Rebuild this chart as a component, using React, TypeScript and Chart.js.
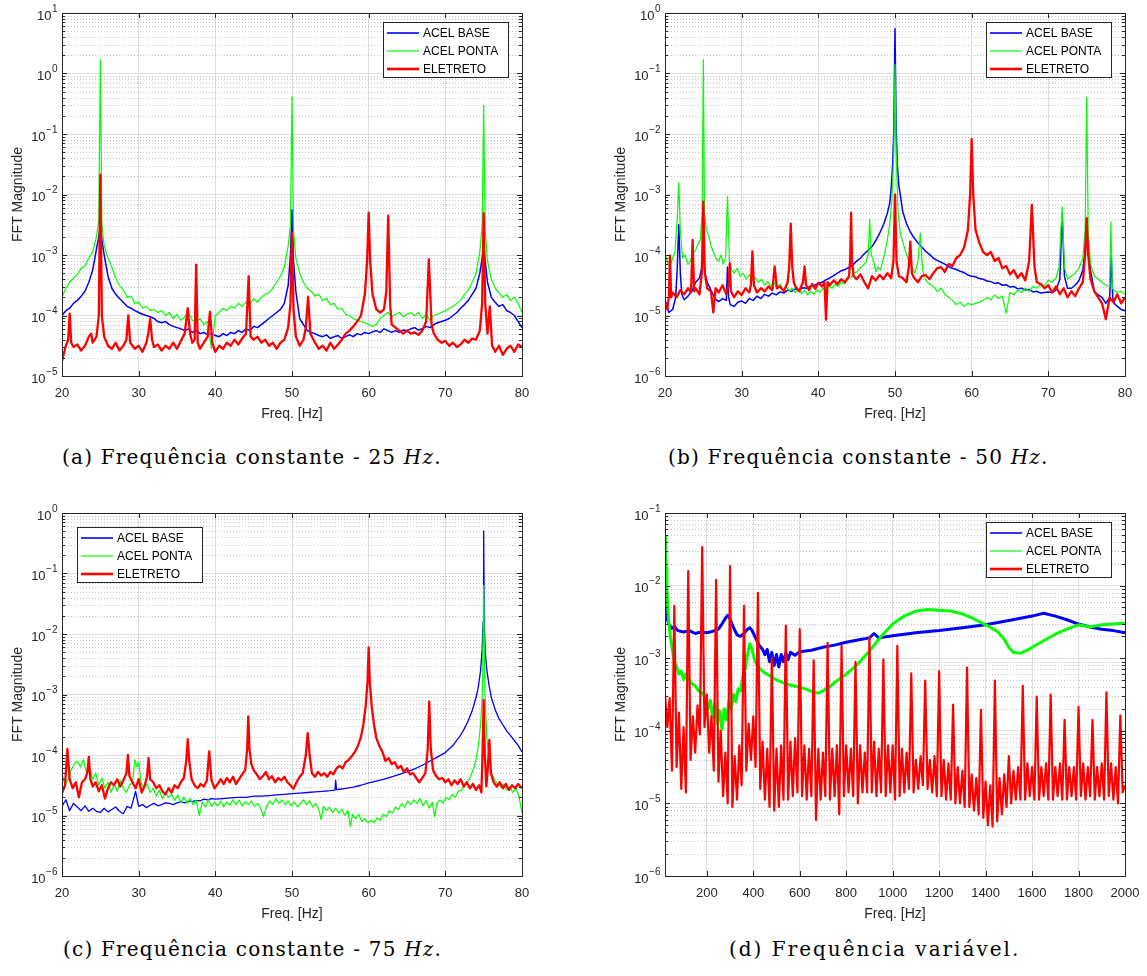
import React, { useEffect, useRef } from 'react';
import { Chart, registerables } from 'chart.js';

Chart.register(...registerables);

// ---------- DATA (frequency in Hz, magnitude given as log10(FFT magnitude)) ----------
const SERIES_LABELS = ['ACEL BASE', 'ACEL PONTA', 'ELETRETO'];
const X_TICKS_CONST = [20, 30, 40, 50, 60, 70, 80];
const X_TICKS_VAR = [200, 400, 600, 800, 1000, 1200, 1400, 1600, 1800, 2000];
const Y_EXP_A = [-5, 1];
const Y_EXP_B = [-6, 0];
const Y_EXP_C = [-6, 0];
const Y_EXP_D = [-6, -1];

// (a) 25 Hz
const A_BASE = [[20,-4.00],[20.5,-3.92],[21,-3.88],[21.5,-3.80],[22,-3.75],[22.5,-3.68],[23,-3.60],[23.5,-3.45],[24,-3.25],[24.5,-2.90],[24.8,-2.7],[25,-2.5],[25.2,-2.75],[25.5,-3.00],[26,-3.35],[26.5,-3.55],[27,-3.65],[27.5,-3.72],[28,-3.78],[28.5,-3.85],[29,-3.88],[29.5,-3.92],[30,-3.95],[30.5,-3.98],[31,-4.00],[31.5,-4.02],[32,-4.05],[32.5,-4.10],[33,-4.12],[33.5,-4.10],[34,-4.15],[34.5,-4.18],[35,-4.20],[35.5,-4.22],[36,-4.25],[36.5,-4.22],[37,-4.28],[37.5,-4.25],[38,-4.30],[38.5,-4.28],[39,-4.32],[39.5,-4.30],[40,-4.33],[40.5,-4.35],[41,-4.30],[41.5,-4.33],[42,-4.28],[42.5,-4.30],[43,-4.25],[43.5,-4.28],[44,-4.22],[44.5,-4.25],[45,-4.18],[45.5,-4.20],[46,-4.15],[46.5,-4.10],[47,-4.05],[47.5,-4.00],[48,-3.95],[48.5,-3.90],[49,-3.80],[49.5,-3.50],[49.8,-3.0],[50,-2.25],[50.2,-3.1],[50.5,-3.60],[51,-4.05],[51.5,-4.15],[52,-4.25],[52.5,-4.28],[53,-4.30],[53.5,-4.33],[54,-4.35],[54.5,-4.32],[55,-4.38],[55.5,-4.35],[56,-4.33],[56.5,-4.38],[57,-4.35],[57.5,-4.32],[58,-4.35],[58.5,-4.30],[59,-4.32],[59.5,-4.28],[60,-4.30],[60.5,-4.27],[61,-4.25],[61.5,-4.28],[62,-4.22],[62.5,-4.25],[63,-4.28],[63.5,-4.25],[64,-4.28],[64.5,-4.24],[65,-4.25],[65.5,-4.22],[66,-4.20],[66.5,-4.24],[67,-4.22],[67.5,-4.18],[68,-4.20],[68.5,-4.15],[69,-4.12],[69.5,-4.10],[70,-4.08],[70.5,-4.05],[71,-4.00],[71.5,-3.95],[72,-3.88],[72.5,-3.82],[73,-3.75],[73.5,-3.65],[74,-3.55],[74.5,-3.30],[74.8,-3.05],[75,-2.85],[75.2,-3.1],[75.5,-3.45],[76,-3.70],[76.5,-3.78],[77,-3.85],[77.5,-3.82],[78,-3.92],[78.5,-3.95],[79,-4.00],[79.5,-4.10],[80,-4.20]];
const A_PONTA = [[20,-3.70],[20.5,-3.55],[21,-3.45],[21.5,-3.38],[22,-3.32],[22.5,-3.22],[23,-3.18],[23.5,-3.05],[24,-2.95],[24.5,-2.70],[24.8,-2.4],[25,0.23],[25.2,-2.5],[25.5,-2.85],[26,-3.05],[26.5,-3.20],[27,-3.38],[27.5,-3.50],[28,-3.58],[28.5,-3.70],[29,-3.68],[29.5,-3.80],[30,-3.78],[30.5,-3.88],[31,-3.85],[31.5,-3.92],[32,-3.90],[32.5,-3.95],[33,-3.92],[33.5,-4.00],[34,-3.95],[34.5,-4.05],[35,-3.98],[35.5,-4.08],[36,-4.02],[36.5,-3.95],[37,-4.08],[37.5,-4.12],[38,-4.05],[38.5,-4.15],[39,-4.10],[39.5,-4.55],[40,-4.00],[40.5,-3.95],[41,-3.88],[41.5,-3.92],[42,-3.85],[42.5,-3.88],[43,-3.80],[43.5,-3.85],[44,-3.78],[44.5,-3.82],[45,-3.72],[45.5,-3.78],[46,-3.70],[46.5,-3.65],[47,-3.62],[47.5,-3.55],[48,-3.45],[48.5,-3.35],[49,-3.20],[49.5,-2.85],[49.8,-2.5],[50,-0.38],[50.2,-2.6],[50.5,-3.05],[51,-3.30],[51.5,-3.45],[52,-3.55],[52.5,-3.60],[53,-3.68],[53.5,-3.65],[54,-3.75],[54.5,-3.72],[55,-3.82],[55.5,-3.80],[56,-3.90],[56.5,-3.88],[57,-3.98],[57.5,-4.00],[58,-4.05],[58.5,-4.08],[59,-4.10],[59.5,-4.12],[60,-4.15],[60.5,-4.18],[61,-4.15],[61.5,-4.05],[62,-4.00],[62.5,-3.95],[63,-4.02],[63.5,-3.98],[64,-3.95],[64.5,-4.02],[65,-3.98],[65.5,-3.95],[66,-4.00],[66.5,-3.95],[67,-4.05],[67.5,-3.98],[68,-4.08],[68.5,-4.00],[69,-3.98],[69.5,-3.95],[70,-3.92],[70.5,-3.88],[71,-3.85],[71.5,-3.80],[72,-3.75],[72.5,-3.65],[73,-3.58],[73.5,-3.45],[74,-3.30],[74.5,-2.95],[74.8,-2.5],[75,-0.53],[75.2,-2.6],[75.5,-3.10],[76,-3.40],[76.5,-3.55],[77,-3.62],[77.5,-3.70],[78,-3.65],[78.5,-3.75],[79,-3.70],[79.5,-3.80],[80,-3.95]];
const A_ELETRETO = [[20,-4.75],[20.5,-4.50],[20.8,-4.40],[21,-3.97],[21.2,-4.45],[21.5,-4.52],[22,-4.48],[22.5,-4.58],[23,-4.50],[23.5,-4.35],[23.8,-4.30],[24,-4.45],[24.5,-4.35],[24.8,-4.0],[25,-1.67],[25.2,-4.0],[25.5,-4.35],[26,-4.50],[26.5,-4.55],[27,-4.45],[27.5,-4.58],[28,-4.50],[28.4,-4.40],[28.65,-4.00],[28.9,-4.45],[29.5,-4.55],[30,-4.50],[30.5,-4.60],[31,-4.45],[31.25,-4.30],[31.5,-4.05],[31.75,-4.40],[32,-4.52],[32.5,-4.48],[33,-4.58],[33.5,-4.50],[34,-4.55],[34.5,-4.45],[35,-4.55],[35.5,-4.42],[36,-4.30],[36.4,-3.88],[36.7,-4.30],[37,-4.45],[37.3,-4.40],[37.5,-3.16],[37.7,-4.45],[38,-4.55],[38.5,-4.45],[39,-4.35],[39.3,-3.94],[39.6,-4.45],[40,-4.60],[40.5,-4.50],[41,-4.55],[41.5,-4.45],[42,-4.50],[42.5,-4.40],[43,-4.48],[43.5,-4.38],[44,-4.30],[44.35,-3.35],[44.6,-4.35],[45,-4.40],[45.5,-4.35],[46,-4.45],[46.5,-4.40],[47,-4.50],[47.5,-4.45],[48,-4.55],[48.5,-4.45],[49,-4.40],[49.5,-4.20],[49.8,-3.8],[50,-2.64],[50.2,-3.9],[50.5,-4.35],[51,-4.50],[51.5,-4.40],[51.8,-4.2],[52.1,-3.69],[52.4,-4.3],[53,-4.45],[53.5,-4.55],[54,-4.50],[54.5,-4.58],[55,-4.45],[55.5,-4.55],[56,-4.48],[56.5,-4.40],[57,-4.30],[57.5,-4.25],[58,-4.18],[58.5,-4.10],[59,-4.00],[59.5,-3.65],[59.8,-3.1],[60,-2.30],[60.2,-3.1],[60.5,-3.65],[61,-3.90],[61.5,-3.95],[62,-3.90],[62.3,-3.6],[62.55,-2.35],[62.8,-3.8],[63,-4.15],[63.5,-4.20],[64,-4.25],[64.5,-4.30],[65,-4.25],[65.5,-4.30],[66,-4.28],[66.5,-4.32],[67,-4.25],[67.5,-4.10],[67.85,-3.07],[68.2,-4.15],[68.5,-4.30],[69,-4.40],[69.5,-4.45],[70,-4.42],[70.5,-4.50],[71,-4.45],[71.5,-4.52],[72,-4.48],[72.5,-4.40],[73,-4.45],[73.5,-4.38],[74,-4.40],[74.5,-4.25],[74.8,-3.8],[75,-2.31],[75.2,-3.8],[75.5,-4.30],[75.8,-3.85],[76.1,-4.5],[76.5,-4.60],[77,-4.50],[77.5,-4.65],[78,-4.55],[78.5,-4.50],[79,-4.60],[79.5,-4.48],[80,-4.52]];

// (b) 50 Hz
const B_BASE = [[20,-4.74],[20.5,-4.95],[21,-4.90],[21.4,-4.70],[21.6,-4.2],[21.8,-3.50],[22,-4.30],[22.2,-4.65],[22.5,-4.74],[23,-4.68],[23.5,-4.60],[24,-4.45],[24.5,-4.38],[24.8,-4.2],[25,-4.0],[25.2,-4.3],[25.5,-4.45],[26,-4.58],[26.5,-4.72],[27,-4.77],[27.5,-4.72],[28,-4.75],[28.15,-4.20],[28.3,-4.70],[28.5,-4.82],[29,-4.85],[29.5,-4.78],[30,-4.76],[30.5,-4.80],[31,-4.72],[31.5,-4.75],[32,-4.68],[32.5,-4.72],[33,-4.65],[33.5,-4.68],[34,-4.63],[34.5,-4.66],[35,-4.61],[35.5,-4.63],[36,-4.58],[36.5,-4.60],[37,-4.56],[37.5,-4.58],[38,-4.54],[38.5,-4.55],[39,-4.51],[39.5,-4.50],[40,-4.47],[40.5,-4.45],[41,-4.41],[41.5,-4.38],[42,-4.34],[42.5,-4.30],[43,-4.26],[43.5,-4.24],[44,-4.20],[44.5,-4.17],[45,-4.10],[45.5,-4.05],[46,-3.98],[46.5,-3.92],[47,-3.86],[47.5,-3.76],[48,-3.64],[48.5,-3.50],[49,-3.31],[49.3,-3.15],[49.5,-2.90],[49.7,-2.5],[49.85,-1.9],[50,-0.26],[50.15,-1.9],[50.3,-2.5],[50.5,-2.85],[50.75,-3.05],[51,-3.28],[51.5,-3.48],[52,-3.62],[52.5,-3.72],[53,-3.80],[53.5,-3.87],[54,-3.94],[54.5,-3.99],[55,-4.05],[55.5,-4.09],[56,-4.12],[56.5,-4.15],[57,-4.19],[57.5,-4.22],[58,-4.24],[58.5,-4.27],[59,-4.29],[59.5,-4.33],[60,-4.35],[60.5,-4.36],[61,-4.39],[61.5,-4.40],[62,-4.43],[62.5,-4.44],[63,-4.47],[63.5,-4.46],[64,-4.50],[64.5,-4.49],[65,-4.53],[65.5,-4.52],[66,-4.56],[66.5,-4.55],[67,-4.58],[67.5,-4.57],[68,-4.61],[68.5,-4.60],[69,-4.63],[69.5,-4.62],[70,-4.61],[70.5,-4.62],[71,-4.58],[71.5,-4.40],[71.8,-3.31],[72.1,-4.35],[72.5,-4.55],[73,-4.55],[73.5,-4.50],[74,-4.42],[74.5,-4.25],[74.8,-3.9],[75,-3.40],[75.2,-3.9],[75.5,-4.25],[76,-4.60],[76.5,-4.66],[77,-4.70],[77.5,-4.80],[78,-4.70],[78.2,-4.00],[78.4,-4.70],[78.6,-4.80],[79,-4.85],[79.5,-4.90],[80,-4.92]];
const B_PONTA = [[20,-3.97],[20.3,-4.10],[20.6,-4.20],[21,-4.05],[21.3,-3.95],[21.6,-3.4],[21.8,-2.80],[22,-3.6],[22.3,-4.05],[22.6,-4.00],[23,-4.15],[23.3,-4.10],[23.6,-3.98],[24,-3.92],[24.3,-3.82],[24.6,-3.75],[24.85,-3.3],[25,-0.77],[25.15,-3.3],[25.4,-3.58],[25.7,-3.68],[26,-3.85],[26.3,-3.95],[26.6,-4.05],[27,-4.10],[27.3,-4.00],[27.6,-4.15],[27.9,-4.05],[28.15,-3.03],[28.4,-4.10],[28.7,-4.25],[29,-4.30],[29.4,-4.22],[29.8,-4.35],[30.2,-4.30],[30.6,-4.40],[31,-4.33],[31.4,-4.42],[31.8,-4.38],[32.2,-4.45],[32.6,-4.40],[33,-4.50],[33.4,-4.44],[33.8,-4.52],[34.2,-4.45],[34.6,-4.55],[35,-4.48],[35.4,-4.58],[35.8,-4.52],[36.2,-4.60],[36.6,-4.55],[37,-4.62],[37.4,-4.56],[37.8,-4.64],[38.2,-4.58],[38.6,-4.66],[39,-4.60],[39.4,-4.65],[39.8,-4.58],[40.2,-4.62],[40.6,-4.55],[41,-4.58],[41.4,-4.52],[41.8,-4.55],[42.2,-4.48],[42.6,-4.52],[43,-4.45],[43.4,-4.48],[43.8,-4.40],[44.2,-4.38],[44.6,-4.30],[45,-4.28],[45.4,-4.22],[45.8,-4.18],[46.2,-4.12],[46.5,-4.0],[46.7,-3.41],[46.9,-4.00],[47.2,-4.10],[47.5,-4.28],[47.8,-4.20],[48.1,-4.25],[48.4,-4.10],[48.7,-3.95],[49,-3.75],[49.3,-3.50],[49.6,-3.10],[49.85,-2.3],[50,-0.85],[50.15,-2.3],[50.4,-3.30],[50.7,-3.65],[51,-3.78],[51.4,-3.95],[51.8,-4.10],[52.2,-4.20],[52.6,-4.30],[53,-4.10],[53.3,-3.64],[53.6,-4.25],[54,-4.42],[54.5,-4.48],[55,-4.52],[55.5,-4.60],[56,-4.55],[56.5,-4.65],[57,-4.70],[57.5,-4.75],[58,-4.82],[58.5,-4.78],[59,-4.85],[59.5,-4.80],[60,-4.82],[60.5,-4.80],[61,-4.78],[61.5,-4.75],[62,-4.70],[62.5,-4.74],[63,-4.66],[63.5,-4.72],[64,-4.68],[64.5,-4.96],[65,-4.62],[65.5,-4.66],[66,-4.58],[66.5,-4.62],[67,-4.55],[67.5,-4.60],[68,-4.52],[68.5,-4.55],[69,-4.48],[69.5,-4.50],[70,-4.42],[70.5,-4.45],[71,-4.38],[71.4,-4.2],[71.8,-3.20],[72.1,-4.2],[72.5,-4.40],[73,-4.35],[73.5,-4.30],[74,-4.22],[74.5,-4.05],[74.8,-3.6],[75,-1.39],[75.2,-3.6],[75.5,-4.15],[76,-4.35],[76.5,-4.40],[77,-4.45],[77.5,-4.50],[78,-4.52],[78.16,-3.45],[78.35,-4.55],[78.7,-4.60],[79,-4.62],[79.5,-4.60],[80,-4.65]];
const B_ELETRETO = [[20,-4.80],[20.3,-4.90],[20.5,-4.70],[20.65,-4.01],[20.8,-4.70],[21,-4.62],[21.5,-4.70],[22,-4.58],[22.5,-4.65],[23,-4.55],[23.4,-4.62],[23.6,-3.75],[23.8,-4.60],[24,-4.55],[24.5,-4.65],[24.8,-4.3],[25,-3.12],[25.2,-4.3],[25.5,-4.55],[26,-4.60],[26.3,-4.95],[26.6,-4.55],[27,-4.62],[27.5,-4.50],[28,-4.65],[28.3,-4.5],[28.45,-4.14],[28.6,-4.6],[29,-4.70],[29.5,-4.60],[30,-4.66],[30.5,-4.55],[31,-4.62],[31.2,-4.5],[31.4,-3.94],[31.6,-4.5],[32,-4.62],[32.5,-4.55],[33,-4.60],[33.5,-4.52],[34,-4.58],[34.3,-4.19],[34.6,-4.55],[35,-4.52],[35.5,-4.60],[36,-4.45],[36.2,-4.2],[36.4,-3.48],[36.6,-4.2],[36.8,-4.45],[37,-4.52],[37.5,-4.60],[38,-4.45],[38.2,-4.19],[38.4,-4.50],[38.8,-4.58],[39.2,-4.48],[39.6,-4.56],[40,-4.46],[40.5,-4.52],[40.8,-4.45],[41,-5.07],[41.2,-4.45],[41.5,-4.50],[42,-4.42],[42.5,-4.48],[43,-4.40],[43.5,-4.45],[44,-4.35],[44.15,-4.1],[44.27,-3.30],[44.4,-4.1],[44.6,-4.35],[45,-4.40],[45.5,-4.32],[46,-4.45],[46.5,-4.55],[47,-4.35],[47.5,-4.42],[48,-4.33],[48.5,-4.40],[49,-4.30],[49.5,-4.38],[49.8,-4.1],[50,-3.00],[50.2,-4.1],[50.5,-4.35],[51,-4.38],[51.5,-4.45],[51.8,-4.2],[52,-3.78],[52.2,-4.3],[52.5,-4.38],[53,-4.45],[53.5,-4.35],[54,-4.33],[54.5,-4.40],[55,-4.30],[55.5,-4.22],[56,-4.20],[56.5,-4.28],[57,-4.15],[57.5,-4.18],[58,-4.05],[58.5,-4.00],[59,-3.88],[59.5,-3.60],[59.8,-3.0],[60,-2.08],[60.2,-3.0],[60.5,-3.58],[61,-3.80],[61.5,-3.95],[62,-4.00],[62.5,-3.95],[63,-4.10],[63.5,-4.05],[64,-4.22],[64.5,-4.18],[65,-4.32],[65.5,-4.25],[66,-4.38],[66.5,-4.30],[67,-4.42],[67.5,-4.1],[67.85,-3.17],[68.2,-4.2],[68.5,-4.45],[69,-4.48],[69.5,-4.55],[70,-4.50],[70.5,-4.62],[71,-4.52],[71.5,-4.65],[72,-4.55],[72.5,-4.70],[73,-4.60],[73.5,-4.68],[74,-4.55],[74.5,-4.45],[74.8,-4.0],[75,-3.39],[75.2,-4.0],[75.5,-4.40],[76,-4.60],[76.5,-4.70],[77,-4.80],[77.5,-5.06],[78,-4.70],[78.5,-4.78],[79,-4.65],[79.5,-4.80],[80,-4.70]];

// (c) 75 Hz
const C_BASE = [[20,-4.85],[20.5,-4.74],[21,-4.92],[21.5,-4.80],[22,-4.86],[22.5,-4.92],[23,-4.84],[23.5,-4.93],[24,-4.88],[24.5,-4.93],[25,-4.95],[25.5,-4.88],[26,-4.94],[26.5,-4.90],[27,-4.86],[27.5,-4.93],[28,-4.97],[28.5,-4.85],[29,-4.88],[29.6,-4.60],[30,-4.85],[30.5,-4.82],[31,-4.87],[31.5,-4.83],[32,-4.80],[32.5,-4.84],[33,-4.82],[33.5,-4.79],[34,-4.80],[34.5,-4.82],[35,-4.79],[35.5,-4.77],[36,-4.79],[36.5,-4.76],[37,-4.77],[37.5,-4.75],[38,-4.76],[38.5,-4.73],[39,-4.74],[39.5,-4.72],[40,-4.73],[41,-4.72],[42,-4.71],[43,-4.70],[44,-4.70],[45,-4.68],[46,-4.68],[47,-4.67],[48,-4.66],[49,-4.65],[50,-4.64],[51,-4.63],[52,-4.62],[53,-4.61],[54,-4.60],[55,-4.59],[55.6,-4.58],[55.7,-4.42],[55.8,-4.57],[56,-4.57],[57,-4.55],[58,-4.53],[59,-4.50],[60,-4.46],[61,-4.43],[62,-4.40],[63,-4.36],[64,-4.32],[65,-4.28],[66,-4.23],[67,-4.17],[68,-4.10],[69,-4.03],[70,-3.96],[71,-3.84],[72,-3.67],[72.5,-3.56],[73,-3.43],[73.5,-3.27],[74,-3.05],[74.3,-2.88],[74.6,-2.60],[74.8,-2.25],[74.92,-1.8],[75,-0.30],[75.08,-1.8],[75.2,-2.28],[75.4,-2.58],[75.7,-2.85],[76,-3.05],[76.5,-3.25],[77,-3.40],[77.5,-3.50],[78,-3.60],[78.5,-3.68],[79,-3.76],[79.5,-3.84],[80,-3.95]];
const C_PONTA = [[20,-4.30],[20.4,-4.50],[20.8,-4.40],[21.2,-4.25],[21.6,-4.15],[22,-4.10],[22.4,-4.20],[22.8,-4.08],[23.2,-4.30],[23.6,-4.22],[24,-4.40],[24.4,-4.30],[24.8,-4.50],[25.2,-4.38],[25.6,-4.55],[26,-4.45],[26.4,-4.62],[26.8,-4.48],[27.2,-4.60],[27.6,-4.42],[28,-4.55],[28.4,-4.62],[28.8,-4.50],[29.2,-4.45],[29.5,-4.08],[29.8,-4.20],[30,-4.12],[30.3,-4.45],[30.7,-4.55],[31.1,-4.48],[31.5,-4.62],[31.9,-4.55],[32.3,-4.68],[32.7,-4.58],[33.1,-4.72],[33.5,-4.62],[33.9,-4.70],[34.3,-4.65],[34.7,-4.75],[35.1,-4.66],[35.5,-4.78],[35.9,-4.70],[36.3,-4.80],[36.7,-4.72],[37.1,-4.82],[37.5,-4.75],[37.9,-5.00],[38.3,-4.78],[38.7,-4.86],[39.1,-4.74],[39.5,-4.85],[39.9,-4.78],[40.3,-4.84],[40.7,-4.76],[41.1,-4.86],[41.5,-4.78],[41.9,-4.83],[42.3,-4.74],[42.7,-4.82],[43.1,-4.75],[43.5,-4.84],[43.9,-4.77],[44.3,-4.82],[44.7,-4.76],[45.1,-4.85],[45.5,-4.80],[45.9,-4.88],[46.3,-5.02],[46.7,-4.84],[47.1,-4.76],[47.5,-4.82],[47.9,-4.72],[48.3,-4.80],[48.7,-4.74],[49.1,-4.82],[49.5,-4.76],[49.9,-4.84],[50.3,-4.78],[50.7,-4.86],[51.1,-4.80],[51.5,-4.74],[51.9,-4.82],[52.3,-4.76],[52.7,-4.86],[53.1,-4.80],[53.5,-4.90],[53.8,-5.07],[54.1,-4.85],[54.5,-4.92],[54.9,-4.86],[55.3,-4.95],[55.7,-4.88],[56.1,-4.96],[56.5,-4.90],[56.9,-5.00],[57.3,-4.92],[57.6,-5.18],[57.9,-4.98],[58.3,-5.05],[58.7,-4.98],[59.1,-5.10],[59.5,-5.05],[59.9,-5.12],[60.3,-5.08],[60.7,-5.12],[61.1,-5.04],[61.5,-5.08],[61.9,-4.98],[62.3,-5.02],[62.7,-4.92],[63.1,-4.96],[63.5,-4.86],[63.9,-4.90],[64.3,-4.80],[64.7,-4.86],[65.1,-4.76],[65.5,-4.82],[65.9,-4.74],[66.3,-4.80],[66.7,-4.72],[67.1,-4.84],[67.5,-4.75],[67.9,-4.88],[68.3,-4.78],[68.6,-5.02],[68.9,-4.80],[69.3,-4.74],[69.7,-4.80],[70.1,-4.70],[70.5,-4.74],[70.9,-4.65],[71.3,-4.70],[71.7,-4.60],[72.1,-4.58],[72.5,-4.50],[72.9,-4.45],[73.3,-4.35],[73.7,-4.22],[74,-4.08],[74.3,-3.85],[74.6,-3.50],[74.85,-2.9],[75,-1.20],[75.15,-2.9],[75.4,-3.70],[75.7,-4.05],[76,-4.30],[76.4,-4.40],[76.8,-4.48],[77.2,-4.52],[77.6,-4.48],[78,-4.58],[78.4,-4.52],[78.8,-4.62],[79.2,-4.55],[79.6,-4.68],[80,-4.96]];
const C_ELETRETO = [[20,-4.63],[20.4,-4.50],[20.7,-3.90],[21,-4.40],[21.4,-4.55],[21.8,-4.45],[22.2,-4.70],[22.6,-4.45],[23,-4.40],[23.3,-4.3],[23.5,-4.03],[23.7,-4.4],[24,-4.52],[24.4,-4.45],[24.8,-4.60],[25.2,-4.50],[25.6,-4.72],[26,-4.55],[26.4,-4.45],[26.8,-4.50],[27.2,-4.40],[27.6,-4.52],[28,-4.42],[28.4,-4.3],[28.6,-4.00],[28.8,-4.35],[29.2,-4.45],[29.6,-4.55],[30,-4.40],[30.4,-4.62],[30.8,-4.50],[31.1,-4.35],[31.3,-4.05],[31.5,-4.40],[31.9,-4.45],[32.3,-4.55],[32.7,-4.50],[33.1,-4.60],[33.5,-4.65],[33.9,-4.55],[34.3,-4.62],[34.7,-4.50],[35.1,-4.55],[35.5,-4.45],[35.9,-4.38],[36.2,-4.1],[36.4,-3.74],[36.6,-4.1],[36.9,-4.40],[37.3,-4.50],[37.7,-4.55],[38.1,-4.48],[38.5,-4.52],[38.9,-4.42],[39.2,-3.94],[39.5,-4.42],[39.9,-4.55],[40.3,-4.48],[40.7,-4.40],[41.1,-4.48],[41.5,-4.38],[41.9,-4.45],[42.3,-4.36],[42.7,-4.48],[43.1,-4.40],[43.5,-4.32],[43.9,-4.25],[44.15,-3.9],[44.3,-3.36],[44.45,-3.9],[44.7,-4.15],[45,-4.25],[45.4,-4.32],[45.8,-4.40],[46.2,-4.35],[46.6,-4.28],[47,-4.40],[47.4,-4.35],[47.8,-4.45],[48.2,-4.38],[48.6,-4.42],[49,-4.36],[49.4,-4.45],[49.8,-4.50],[50.2,-4.56],[50.6,-4.45],[51,-4.36],[51.4,-4.30],[51.8,-4.0],[52.05,-3.64],[52.3,-4.0],[52.6,-4.30],[53,-4.36],[53.4,-4.28],[53.8,-4.34],[54.2,-4.30],[54.6,-4.36],[55,-4.28],[55.4,-4.32],[55.8,-4.22],[56.2,-4.18],[56.6,-4.22],[57,-4.12],[57.4,-4.08],[57.8,-4.02],[58.2,-3.95],[58.6,-3.85],[59,-3.70],[59.3,-3.50],[59.6,-3.20],[59.85,-2.8],[60,-2.22],[60.15,-2.8],[60.4,-3.20],[60.7,-3.50],[61,-3.72],[61.4,-3.85],[61.8,-3.95],[62.2,-4.10],[62.6,-4.05],[63,-4.15],[63.4,-4.12],[63.8,-4.22],[64.2,-4.18],[64.6,-4.28],[65,-4.22],[65.4,-4.32],[65.8,-4.30],[66.2,-4.38],[66.6,-4.45],[67,-4.38],[67.4,-4.30],[67.7,-3.9],[67.9,-3.12],[68.1,-3.9],[68.4,-4.25],[68.8,-4.35],[69.2,-4.40],[69.6,-4.38],[70,-4.45],[70.4,-4.40],[70.8,-4.50],[71.2,-4.42],[71.6,-4.48],[72,-4.40],[72.4,-4.52],[72.8,-4.45],[73.2,-4.55],[73.6,-4.48],[74,-4.58],[74.4,-4.50],[74.7,-4.62],[74.85,-4.0],[75,-3.09],[75.15,-4.0],[75.35,-4.52],[75.55,-4.2],[75.74,-3.75],[75.95,-4.3],[76.3,-4.45],[76.7,-4.52],[77.1,-4.45],[77.5,-4.55],[77.9,-4.48],[78.3,-4.58],[78.7,-4.50],[79.1,-4.55],[79.5,-4.48],[80,-4.55]];

// (d) variable frequency
const D_BASE = [[20,-1.97],[25,-2.30],[30,-2.47],[40,-2.55],[50,-2.59],[60,-2.56],[75,-2.62],[100,-2.64],[125,-2.62],[150,-2.66],[175,-2.64],[200,-2.65],[225,-2.63],[250,-2.60],[265,-2.53],[280,-2.45],[290,-2.41],[300,-2.46],[315,-2.58],[330,-2.68],[345,-2.70],[360,-2.66],[375,-2.60],[385,-2.58],[395,-2.62],[410,-2.72],[425,-2.82],[440,-2.88],[450,-2.95],[460,-2.88],[470,-3.05],[480,-2.92],[490,-3.10],[500,-2.95],[510,-3.12],[520,-2.95],[530,-3.05],[540,-2.93],[550,-3.02],[560,-2.92],[580,-2.96],[600,-2.91],[650,-2.89],[700,-2.85],[750,-2.82],[800,-2.78],[850,-2.75],[900,-2.72],[920,-2.66],[940,-2.72],[1000,-2.69],[1100,-2.65],[1200,-2.62],[1300,-2.58],[1400,-2.54],[1500,-2.48],[1550,-2.45],[1600,-2.42],[1650,-2.38],[1700,-2.42],[1750,-2.47],[1800,-2.53],[1850,-2.57],[1900,-2.60],[1950,-2.62],[2000,-2.65]];
const D_PONTA = [[20,-1.32],[22,-1.45],[25,-1.75],[28,-2.05],[32,-2.30],[36,-2.50],[40,-2.62],[45,-2.75],[50,-2.85],[55,-2.95],[60,-3.05],[70,-3.12],[80,-3.22],[90,-3.18],[100,-3.30],[110,-3.22],[120,-3.28],[135,-3.35],[150,-3.38],[165,-3.45],[180,-3.48],[195,-3.55],[205,-3.70],[215,-3.58],[225,-3.82],[235,-3.62],[245,-3.90],[255,-3.72],[265,-3.98],[275,-3.70],[285,-3.85],[295,-3.60],[305,-3.70],[315,-3.50],[325,-3.60],[335,-3.42],[345,-3.45],[355,-3.25],[365,-3.15],[375,-2.95],[385,-2.80],[395,-2.88],[405,-3.02],[420,-3.12],[440,-3.18],[460,-3.22],[480,-3.26],[500,-3.30],[530,-3.34],[560,-3.37],[600,-3.40],[630,-3.43],[660,-3.47],[680,-3.48],[700,-3.45],[730,-3.39],[760,-3.31],[800,-3.22],[850,-3.08],[900,-2.90],[950,-2.70],[1000,-2.53],[1050,-2.42],[1100,-2.35],[1150,-2.33],[1200,-2.34],[1250,-2.35],[1300,-2.39],[1350,-2.46],[1400,-2.54],[1450,-2.63],[1480,-2.74],[1500,-2.85],[1520,-2.92],[1550,-2.93],[1580,-2.89],[1600,-2.85],[1650,-2.76],[1700,-2.67],[1750,-2.60],[1800,-2.54],[1850,-2.57],[1900,-2.54],[1950,-2.53],[2000,-2.52]];
const D_ELETRETO = [[20,-3.50],[30,-3.95],[40,-3.55],[50,-4.55],[60,-2.28],[70,-4.50],[80,-3.75],[90,-4.80],[100,-3.95],[110,-4.85],[120,-1.80],[130,-4.40],[140,-3.80],[150,-4.30],[160,-3.65],[170,-4.05],[180,-1.47],[190,-3.95],[200,-3.50],[210,-4.30],[220,-3.80],[230,-4.55],[240,-1.92],[250,-4.70],[260,-4.00],[270,-4.90],[280,-4.30],[290,-5.00],[300,-1.73],[310,-5.05],[320,-4.35],[330,-4.95],[340,-4.20],[350,-4.75],[360,-2.28],[370,-4.55],[380,-3.90],[390,-4.40],[400,-3.80],[410,-4.50],[420,-2.10],[430,-4.80],[440,-4.15],[450,-4.95],[460,-4.25],[470,-5.05],[480,-3.00],[490,-5.10],[500,-4.25],[510,-5.05],[520,-4.20],[530,-4.95],[540,-2.55],[550,-4.95],[560,-4.15],[570,-4.90],[580,-4.10],[590,-4.85],[600,-2.60],[610,-4.90],[620,-4.20],[630,-4.95],[640,-4.25],[650,-4.90],[660,-3.03],[670,-5.23],[680,-4.25],[690,-4.95],[700,-4.30],[710,-4.90],[720,-2.79],[730,-4.95],[740,-4.25],[750,-4.90],[760,-4.20],[770,-5.15],[780,-2.83],[790,-4.90],[800,-4.20],[810,-4.85],[820,-4.25],[830,-4.90],[840,-3.05],[850,-5.00],[860,-4.20],[870,-4.85],[880,-4.30],[890,-4.85],[900,-2.71],[910,-4.85],[920,-4.15],[930,-4.90],[940,-4.25],[950,-4.85],[960,-3.02],[970,-4.90],[980,-4.20],[990,-4.85],[1000,-4.20],[1010,-4.95],[1020,-2.83],[1030,-4.90],[1040,-4.25],[1050,-4.85],[1060,-4.30],[1070,-4.80],[1080,-3.21],[1090,-4.85],[1100,-4.40],[1110,-4.80],[1120,-4.35],[1130,-4.75],[1140,-3.31],[1150,-4.80],[1160,-4.40],[1170,-4.85],[1180,-4.35],[1190,-4.90],[1200,-3.18],[1210,-4.90],[1220,-4.40],[1230,-4.95],[1240,-4.45],[1250,-4.95],[1260,-3.64],[1270,-5.00],[1280,-4.50],[1290,-5.00],[1300,-4.55],[1310,-5.05],[1320,-3.13],[1330,-5.05],[1340,-4.60],[1350,-5.10],[1360,-4.65],[1370,-5.15],[1380,-3.71],[1390,-5.20],[1400,-4.70],[1410,-5.30],[1420,-4.75],[1430,-5.32],[1440,-3.31],[1450,-5.25],[1460,-4.65],[1470,-5.15],[1480,-4.60],[1490,-5.05],[1500,-4.35],[1510,-5.00],[1520,-4.55],[1530,-4.95],[1540,-4.50],[1550,-4.95],[1560,-3.38],[1570,-4.95],[1580,-4.45],[1590,-4.90],[1600,-4.50],[1610,-4.95],[1620,-3.53],[1630,-4.95],[1640,-4.50],[1650,-4.90],[1660,-4.45],[1670,-4.95],[1680,-3.50],[1690,-4.95],[1700,-4.50],[1710,-4.90],[1720,-4.45],[1730,-4.95],[1740,-3.85],[1750,-4.95],[1760,-4.50],[1770,-4.90],[1780,-4.50],[1790,-4.95],[1800,-3.67],[1810,-4.90],[1820,-4.45],[1830,-4.95],[1840,-4.50],[1850,-4.90],[1860,-3.85],[1870,-4.95],[1880,-4.50],[1890,-4.90],[1900,-4.45],[1910,-4.95],[1920,-3.47],[1930,-4.90],[1940,-4.45],[1950,-4.95],[1960,-4.50],[1970,-5.00],[1980,-3.79],[1990,-4.85],[2000,-4.75]];

const CAPTIONS = [
  { tag: '(a)', text: 'Frequência constante - 25', unit: 'Hz' },
  { tag: '(b)', text: 'Frequência constante - 50', unit: 'Hz' },
  { tag: '(c)', text: 'Frequência constante - 75', unit: 'Hz' },
  { tag: '(d)', text: 'Frequência variável', unit: '' },
];

// ---------- STYLE ----------
const FONT = "'Liberation Sans', Arial, Helvetica, sans-serif";
const AX = '#262626';
const COLORS = ['#0000ff', '#00ff00', '#ff0000'];
const LEGEND_WIDTHS = [1.6, 1.2, 2.6];
const CANVAS_W = 560;
const CANVAS_H = 430;

const toXY = (pairs: number[][]) => pairs.map(([f, lg]) => ({ x: f, y: Math.pow(10, lg) }));

const decorPlugin = {
  id: 'fftDecor',
  beforeDatasetsDraw(chart: any, _a: any, opts: any) {
    const { ctx, chartArea: a } = chart;
    const y = chart.scales.y;
    ctx.save();
    ctx.strokeStyle = '#c4c4c4';
    ctx.lineWidth = 1;
    ctx.setLineDash([1, 2]);
    for (let e = opts.yExp[0]; e < opts.yExp[1]; e++) {
      for (let k = 2; k <= 9; k++) {
        const py = Math.round(y.getPixelForValue(k * Math.pow(10, e))) + 0.5;
        ctx.beginPath();
        ctx.moveTo(a.left, py);
        ctx.lineTo(a.right, py);
        ctx.stroke();
      }
    }
    ctx.restore();
  },
  afterDatasetsDraw(chart: any, _a: any, opts: any) {
    const { ctx, chartArea: a } = chart;
    const x = chart.scales.x;
    const y = chart.scales.y;
    ctx.save();
    ctx.strokeStyle = AX;
    ctx.lineWidth = 1;
    ctx.setLineDash([]);
    // box
    ctx.strokeRect(Math.round(a.left) + 0.5, Math.round(a.top) + 0.5, Math.round(a.right - a.left), Math.round(a.bottom - a.top));
    // inward ticks
    ctx.beginPath();
    opts.xTicks.forEach((v: number) => {
      const px = Math.round(x.getPixelForValue(v)) + 0.5;
      ctx.moveTo(px, a.bottom); ctx.lineTo(px, a.bottom - 5);
      ctx.moveTo(px, a.top); ctx.lineTo(px, a.top + 5);
    });
    for (let e = opts.yExp[0]; e <= opts.yExp[1]; e++) {
      for (let k = 1; k <= 9; k++) {
        if (e === opts.yExp[1] && k > 1) break;
        const py = Math.round(y.getPixelForValue(k * Math.pow(10, e))) + 0.5;
        const len = k === 1 ? 5 : 3;
        ctx.moveTo(a.left, py); ctx.lineTo(a.left + len, py);
        ctx.moveTo(a.right, py); ctx.lineTo(a.right - len, py);
      }
    }
    ctx.stroke();

    // y tick labels: "10" with raised exponent
    ctx.fillStyle = AX;
    ctx.textAlign = 'right';
    ctx.textBaseline = 'middle';
    for (let e = opts.yExp[0]; e <= opts.yExp[1]; e++) {
      const py = y.getPixelForValue(Math.pow(10, e));
      const expStr = e < 0 ? '\u2212' + Math.abs(e) : String(e);
      const rx = a.left - 4.5;
      ctx.font = `10px ${FONT}`;
      const ew = ctx.measureText(expStr).width;
      ctx.fillText(expStr, rx, py - 4);
      ctx.font = `13px ${FONT}`;
      ctx.fillText('10', rx - ew - 0.5, py + 3);
    }

    // legend
    const L = opts.legend;
    const w = 125;
    const h = 55;
    const lx = Math.round(L.side === 'right' ? a.right - L.dx - w : a.left + L.dx);
    const ly = Math.round(a.top + L.dy);
    ctx.fillStyle = '#ffffff';
    ctx.fillRect(lx, ly, w, h);
    ctx.strokeStyle = AX;
    ctx.lineWidth = 1;
    ctx.strokeRect(lx + 0.5, ly + 0.5, w, h);
    ctx.font = `12px ${FONT}`;
    ctx.textBaseline = 'middle';
    ctx.textAlign = 'left';
    SERIES_LABELS.forEach((label, i) => {
      const cy = ly + 11 + 18 * i;
      ctx.strokeStyle = COLORS[i];
      ctx.lineWidth = LEGEND_WIDTHS[i];
      ctx.beginPath();
      ctx.moveTo(lx + 4, cy);
      ctx.lineTo(lx + 36, cy);
      ctx.stroke();
      ctx.fillStyle = '#000000';
      ctx.fillText(label, lx + 40, cy + 1);
    });
    ctx.restore();
  },
};

type PanelCfg = {
  left: number;
  top: number;
  series: number[][][];
  widths: number[];
  xMin: number;
  xMax: number;
  xTicks: number[];
  yExp: number[];
  legend: { side: string; dx: number; dy: number };
};

const PANELS: PanelCfg[] = [
  { left: 0, top: 0, series: [A_BASE, A_PONTA, A_ELETRETO], widths: [1.5, 1.2, 2.3], xMin: 20, xMax: 80, xTicks: X_TICKS_CONST, yExp: Y_EXP_A, legend: { side: 'right', dx: 14, dy: 9 } },
  { left: 603, top: 0, series: [B_BASE, B_PONTA, B_ELETRETO], widths: [1.5, 1.2, 2.3], xMin: 20, xMax: 80, xTicks: X_TICKS_CONST, yExp: Y_EXP_B, legend: { side: 'right', dx: 14, dy: 9 } },
  { left: 0, top: 500, series: [C_BASE, C_PONTA, C_ELETRETO], widths: [1.3, 1.2, 2.3], xMin: 20, xMax: 80, xTicks: X_TICKS_CONST, yExp: Y_EXP_C, legend: { side: 'left', dx: 15, dy: 14 } },
  { left: 603, top: 500, series: [D_BASE, D_PONTA, D_ELETRETO], widths: [3, 3, 2.2], xMin: 20, xMax: 2000, xTicks: X_TICKS_VAR, yExp: Y_EXP_D, legend: { side: 'right', dx: 14, dy: 9 } },
];

function Panel({ cfg }: { cfg: PanelCfg }) {
  const ref = useRef<HTMLCanvasElement>(null);
  useEffect(() => {
    const decades: number[] = [];
    for (let e = cfg.yExp[0]; e <= cfg.yExp[1]; e++) decades.push(Math.pow(10, e));
    const chart = new Chart(ref.current as HTMLCanvasElement, {
      type: 'line',
      data: {
        datasets: cfg.series.map((s, i) => ({
          label: SERIES_LABELS[i],
          data: toXY(s),
          borderColor: COLORS[i],
          backgroundColor: COLORS[i],
          borderWidth: cfg.widths[i],
          pointRadius: 0,
          tension: 0,
          fill: false,
          borderJoinStyle: 'round',
          order: 2 - i,
        })),
      },
      options: {
        responsive: false,
        animation: false,
        events: [],
        layout: { padding: { left: 0, top: 13, right: 38, bottom: 0 } },
        plugins: {
          legend: { display: false },
          tooltip: { enabled: false },
          fftDecor: { xTicks: cfg.xTicks, yExp: cfg.yExp, legend: cfg.legend },
        },
        scales: {
          x: {
            type: 'linear',
            min: cfg.xMin,
            max: cfg.xMax,
            afterBuildTicks: (s: any) => { s.ticks = cfg.xTicks.map((v) => ({ value: v })); },
            afterFit: (s: any) => { s.height = CANVAS_H - 376; },
            grid: { color: '#dedede', lineWidth: 1, drawTicks: false },
            border: { display: false },
            ticks: { font: { family: FONT, size: 13 }, color: AX, padding: 10, maxRotation: 0, autoSkip: false, callback: (v: any) => String(v) },
            title: { display: true, text: 'Freq. [Hz]', font: { family: FONT, size: 14 }, color: AX, padding: { top: 0, bottom: 7 } },
          },
          y: {
            type: 'logarithmic',
            min: Math.pow(10, cfg.yExp[0]),
            max: Math.pow(10, cfg.yExp[1]),
            afterBuildTicks: (s: any) => { s.ticks = decades.map((v) => ({ value: v })); },
            afterFit: (s: any) => { s.width = 62; },
            grid: { color: '#dedede', lineWidth: 1, drawTicks: false },
            border: { display: false },
            ticks: { display: false },
            title: { display: true, text: 'FFT Magnitude', font: { family: FONT, size: 14 }, color: AX, padding: { top: 10, bottom: 0 } },
          },
        },
      } as any,
      plugins: [decorPlugin as any],
    });
    return () => chart.destroy();
  }, [cfg]);
  return (
    <canvas
      ref={ref}
      width={CANVAS_W}
      height={CANVAS_H}
      style={{ position: 'absolute', left: cfg.left, top: cfg.top, width: CANVAS_W, height: CANVAS_H }}
    />
  );
}

const CAPTION_POS = [
  { left: 62, top: 445, ls: 1.2 },
  { left: 668, top: 445, ls: 1.2 },
  { left: 63, top: 937, ls: 1.2 },
  { left: 729, top: 937, ls: 2.0 },
];

export default function App() {
  return (
    <div style={{ position: 'absolute', left: 0, top: 0, width: 1147, height: 976, background: '#ffffff', overflow: 'hidden' }}>
      {PANELS.map((p, i) => (
        <Panel key={i} cfg={p} />
      ))}
      {CAPTIONS.map((c, i) => (
        <div
          key={'cap' + i}
          style={{
            position: 'absolute',
            left: CAPTION_POS[i].left,
            top: CAPTION_POS[i].top,
            fontFamily: "'DejaVu Serif', serif",
            fontSize: 20,
            lineHeight: '24px',
            letterSpacing: CAPTION_POS[i].ls + 'px',
            whiteSpace: 'nowrap',
            color: '#000',
          }}
        >
          {c.tag} {c.text}
          {c.unit ? <> <i>{c.unit}</i>.</> : '.'}
        </div>
      ))}
    </div>
  );
}
